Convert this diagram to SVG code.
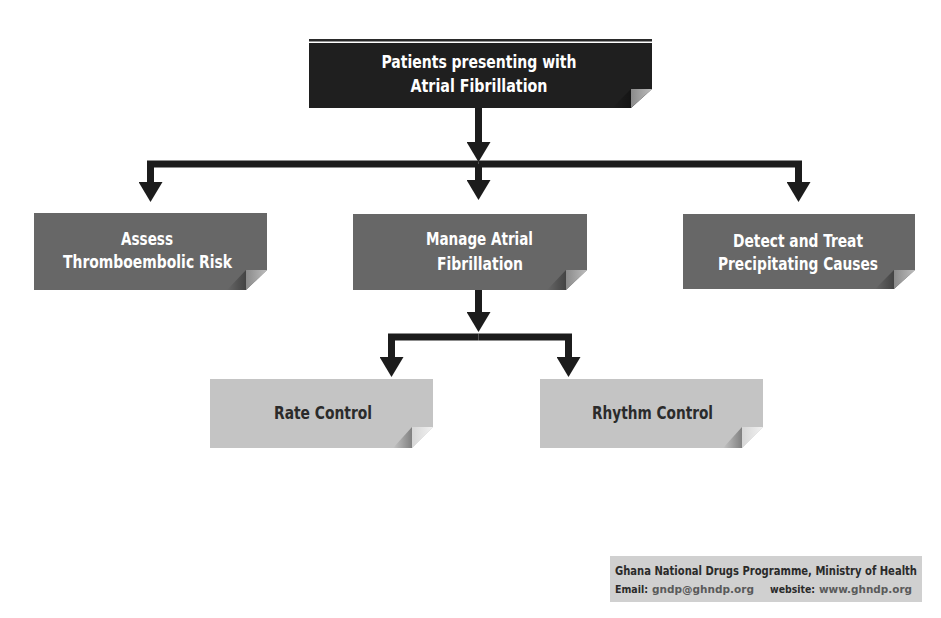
<svg xmlns="http://www.w3.org/2000/svg" width="941" height="618" viewBox="0 0 941 618">
<defs>
<marker id="ah" viewBox="0 0 20 24" refX="8" refY="12" markerWidth="20" markerHeight="24" markerUnits="userSpaceOnUse" orient="auto">
<path d="M0,0 L20,12 L0,24 z" fill="#1c1c1c"/>
</marker>
<linearGradient id="shd" x1="0" y1="0" x2="1" y2="0">
<stop offset="0" stop-color="#000" stop-opacity="0"/>
<stop offset="1" stop-color="#000" stop-opacity="0.35"/>
</linearGradient>
<linearGradient id="flapD" x1="0" y1="0" x2="1" y2="0">
<stop offset="0" stop-color="#8a8a8a"/>
<stop offset="1" stop-color="#bdbdbd"/>
</linearGradient>
<linearGradient id="flapL" x1="0" y1="0" x2="1" y2="0">
<stop offset="0" stop-color="#d6d6d6"/>
<stop offset="1" stop-color="#f2f2f2"/>
</linearGradient>
</defs>
<style>
.t{font-family:"DejaVu Sans Condensed","DejaVu Sans","Liberation Sans",sans-serif;font-weight:bold;font-size:18px;text-anchor:middle}
.w{fill:#ffffff}
.d{fill:#2b2b2b}
.f{font-family:"DejaVu Sans Condensed","DejaVu Sans","Liberation Sans",sans-serif;font-weight:bold;font-size:12px}
.g{font-family:"DejaVu Sans Condensed","DejaVu Sans","Liberation Sans",sans-serif;font-weight:bold;font-size:11px}
.conn{fill:none;stroke:#1c1c1c;stroke-width:7;stroke-linejoin:miter}
</style>
<rect width="941" height="618" fill="#ffffff"/>

<g id="connectors">
<path class="conn" d="M478.5,108 V150" marker-end="url(#ah)"/>
<path class="conn" d="M478.5,164 H150.5 V190" marker-end="url(#ah)"/>
<path class="conn" d="M478.5,164 H798.5 V190" marker-end="url(#ah)"/>
<path class="conn" d="M478.5,164 V188" marker-end="url(#ah)"/>
<path class="conn" d="M478.5,290 V320" marker-end="url(#ah)"/>
<path class="conn" d="M478.5,337 H391.5 V365" marker-end="url(#ah)"/>
<path class="conn" d="M478.5,337 H568.5 V365" marker-end="url(#ah)"/>
</g>

<g id="node-patients">
<rect x="309" y="39" width="343" height="2.5" fill="#2a2a2a"/>
<path d="M309,43 H652 V89 L631,108 H309 Z" fill="#1f1f1f"/>
<path d="M612,108 L631,89 V108 Z" fill="url(#shd)"/>
<path d="M631,89 H652 L631,108 Z" fill="url(#flapD)"/>
<text class="t w" x="479" y="68" textLength="195" lengthAdjust="spacingAndGlyphs">Patients presenting with</text>
<text class="t w" x="479" y="92" textLength="137" lengthAdjust="spacingAndGlyphs">Atrial Fibrillation</text>
</g>

<g id="node-assess">
<path d="M34,213 H267 V270 L246,290 H34 Z" fill="#676767"/>
<path d="M227,290 L246,270 V290 Z" fill="url(#shd)"/>
<path d="M246,270 H267 L246,290 Z" fill="url(#flapD)"/>
<text class="t w" x="147" y="245" textLength="52" lengthAdjust="spacingAndGlyphs">Assess</text>
<text class="t w" x="147.5" y="268" textLength="169" lengthAdjust="spacingAndGlyphs">Thromboembolic Risk</text>
</g>

<g id="node-manage">
<path d="M353,214 H587 V270 L566,290 H353 Z" fill="#676767"/>
<path d="M547,290 L566,270 V290 Z" fill="url(#shd)"/>
<path d="M566,270 H587 L566,290 Z" fill="url(#flapD)"/>
<text class="t w" x="479.5" y="245" textLength="107" lengthAdjust="spacingAndGlyphs">Manage Atrial</text>
<text class="t w" x="480" y="270" textLength="86" lengthAdjust="spacingAndGlyphs">Fibrillation</text>
</g>

<g id="node-detect">
<path d="M683,214 H915 V270 L894,289 H683 Z" fill="#676767"/>
<path d="M875,289 L894,270 V289 Z" fill="url(#shd)"/>
<path d="M894,270 H915 L894,289 Z" fill="url(#flapD)"/>
<text class="t w" x="798" y="247" textLength="130" lengthAdjust="spacingAndGlyphs">Detect and Treat</text>
<text class="t w" x="798" y="270" textLength="160" lengthAdjust="spacingAndGlyphs">Precipitating Causes</text>
</g>

<g id="node-rate">
<path d="M210,379 H433 V427 L412,448 H210 Z" fill="#c4c4c4"/>
<path d="M393,448 L412,427 V448 Z" fill="url(#shd)"/>
<path d="M412,427 H433 L412,448 Z" fill="url(#flapL)"/>
<text class="t d" x="323" y="419" textLength="98" lengthAdjust="spacingAndGlyphs">Rate Control</text>
</g>

<g id="node-rhythm">
<path d="M540,379 H763 V427 L742,448 H540 Z" fill="#c4c4c4"/>
<path d="M723,448 L742,427 V448 Z" fill="url(#shd)"/>
<path d="M742,427 H763 L742,448 Z" fill="url(#flapL)"/>
<text class="t d" x="652.5" y="419" textLength="121" lengthAdjust="spacingAndGlyphs">Rhythm Control</text>
</g>

<g id="footer">
<rect x="610" y="556" width="312" height="46" fill="#d0d0d0"/>
<text class="f" x="615" y="575" fill="#2a2a2a" textLength="302" lengthAdjust="spacingAndGlyphs">Ghana National Drugs Programme, Ministry of Health</text>
<text class="g" x="615" y="593" fill="#2a2a2a" textLength="33" lengthAdjust="spacingAndGlyphs">Email:</text>
<text class="g" x="652" y="593" fill="#5a5a5a" textLength="102" lengthAdjust="spacingAndGlyphs">gndp@ghndp.org</text>
<text class="g" x="770" y="593" fill="#2a2a2a" textLength="45" lengthAdjust="spacingAndGlyphs">website:</text>
<text class="g" x="819" y="593" fill="#5a5a5a" textLength="93" lengthAdjust="spacingAndGlyphs">www.ghndp.org</text>
</g>
</svg>
